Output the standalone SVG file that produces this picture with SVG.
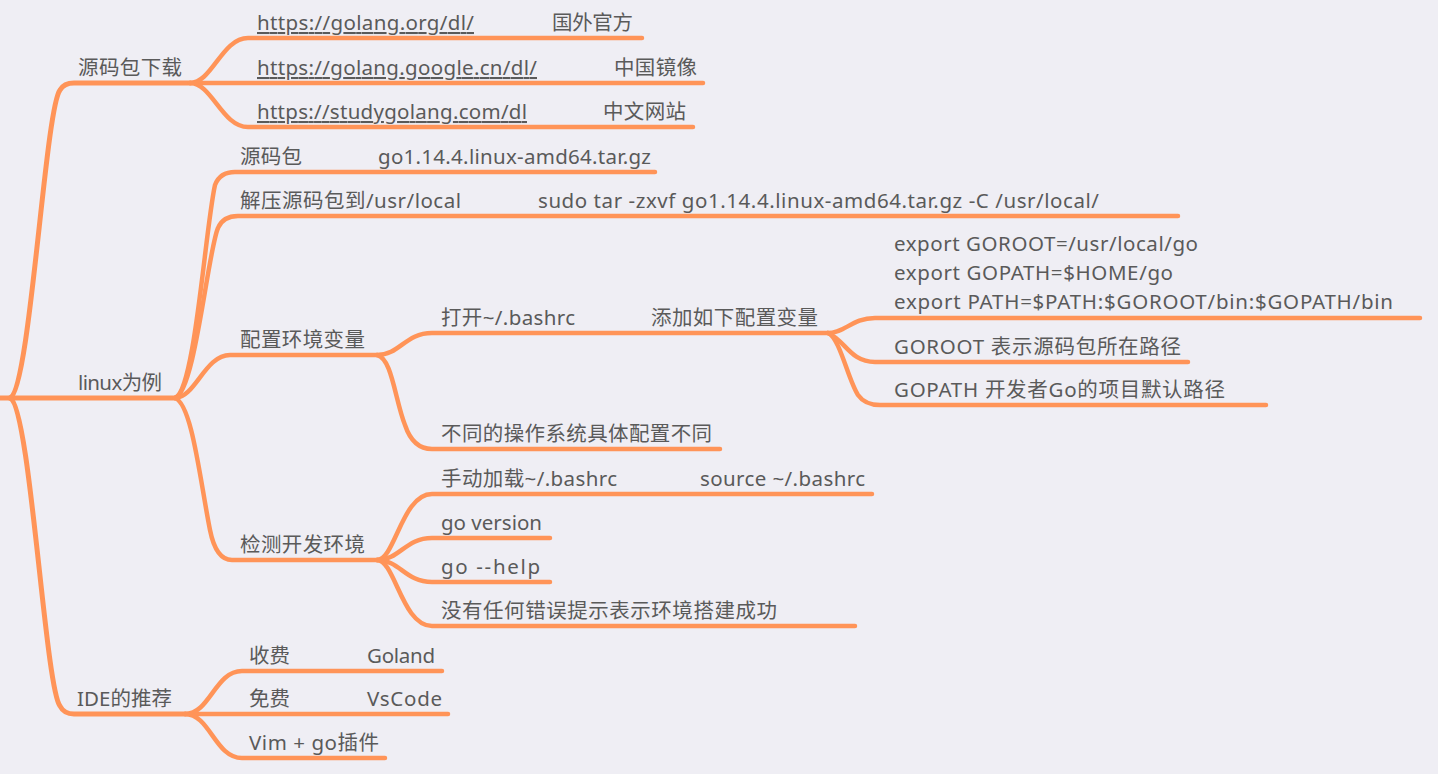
<svg xmlns="http://www.w3.org/2000/svg" width="1438" height="774" viewBox="0 0 1438 774">
<style>
.bg{fill:#EFEEF4}
.c{fill:none;stroke:#FF9458;stroke-width:4.5;stroke-linecap:round;stroke-linejoin:round}
.c1{stroke-width:5}
text{font-family:"Noto Sans","Noto Sans CJK SC",sans-serif;font-size:20.5px;fill:#5A5A5A}
.u{text-decoration:underline}
</style>
<rect class="bg" x="0" y="0" width="1438" height="774"/>
<g id="connectors">
<path class="c c1" d="M0,398 H175"/>
<path class="c c1" d="M10,398 C30,390 45,110 60,90 Q64,83 74,83 H190"/>
<path class="c c1" d="M10,398 C30,406 45,686 60,706 Q64,714 74,714 H185"/>
<path class="c" d="M190,83 C212,83 222,38 248,38 H642"/>
<path class="c" d="M190,83 H703"/>
<path class="c" d="M190,83 C212,83 222,127 248,127 H693"/>
<path class="c" d="M175,398 C195,390 205,230 215,185 Q220,172 235,172 H655"/>
<path class="c" d="M175,398 C195,392 208,250 218,228 Q223,216 238,216 H1178"/>
<path class="c" d="M175,398 C195,398 205,355 230,355 H377"/>
<path class="c" d="M175,398 C192,404 200,480 210,530 Q216,560 232,560 H377"/>
<path class="c" d="M185,714 C210,714 215,671 242,671 H442"/>
<path class="c" d="M185,714 H448"/>
<path class="c" d="M185,714 C210,714 215,758 242,758 H385"/>
<path class="c" d="M377,355 C400,355 405,333 432,333 H828"/>
<path class="c" d="M377,355 C392,358 395,400 405,425 Q413,449 432,449 H720"/>
<path class="c" d="M828,333 C845,333 852,318 875,318 H1420"/>
<path class="c" d="M828,333 C845,340 850,362 875,362 H1188"/>
<path class="c" d="M828,333 C840,338 848,380 858,395 Q865,405 880,405 H1266"/>
<path class="c" d="M377,560 C395,560 402,494 432,494 H872"/>
<path class="c" d="M377,560 C400,560 405,538 432,538 H550"/>
<path class="c" d="M377,560 C400,560 405,582 432,582 H550"/>
<path class="c" d="M377,560 C395,560 402,626 432,626 H855"/>
</g>
<g id="n-download"><text x="78" y="75" textLength="104">源码包下载</text></g>
<g id="n-linux"><text x="78" y="390" textLength="84">linux为例</text></g>
<g id="n-ide"><text x="77" y="706" textLength="95">IDE的推荐</text></g>
<g id="n-url1"><text class="u" x="257" y="30" textLength="217">https://golang.org/dl/</text><text x="552" y="30" textLength="81">国外官方</text></g>
<g id="n-url2"><text class="u" x="257" y="75" textLength="280">https://golang.google.cn/dl/</text><text x="614" y="75" textLength="83">中国镜像</text></g>
<g id="n-url3"><text class="u" x="257" y="119" textLength="270">https://studygolang.com/dl</text><text x="603" y="119" textLength="83">中文网站</text></g>
<g id="n-src"><text x="240" y="164" textLength="62">源码包</text><text x="378" y="164" textLength="273">go1.14.4.linux-amd64.tar.gz</text></g>
<g id="n-untar"><text x="240" y="208" textLength="221">解压源码包到/usr/local</text><text x="538" y="208" textLength="561">sudo tar -zxvf go1.14.4.linux-amd64.tar.gz -C /usr/local/</text></g>
<g id="n-env"><text x="240" y="347" textLength="125">配置环境变量</text></g>
<g id="n-check"><text x="240" y="552" textLength="125">检测开发环境</text></g>
<g id="n-bashrc"><text x="441" y="325" textLength="134">打开~/.bashrc</text><text x="651" y="325" textLength="167">添加如下配置变量</text></g>
<g id="n-os"><text x="441" y="441" textLength="271">不同的操作系统具体配置不同</text></g>
<g id="n-export"><text x="894" y="251" textLength="304">export GOROOT=/usr/local/go</text><text x="894" y="280" textLength="279">export GOPATH=$HOME/go</text><text x="894" y="309" textLength="499">export PATH=$PATH:$GOROOT/bin:$GOPATH/bin</text></g>
<g id="n-goroot"><text x="894" y="354" textLength="287">GOROOT 表示源码包所在路径</text></g>
<g id="n-gopath"><text x="894" y="397" textLength="331">GOPATH 开发者Go的项目默认路径</text></g>
<g id="n-load"><text x="441" y="486" textLength="176">手动加载~/.bashrc</text><text x="700" y="486" textLength="165">source ~/.bashrc</text></g>
<g id="n-version"><text x="441" y="530" textLength="101">go version</text></g>
<g id="n-help"><text x="441" y="574" textLength="99">go --help</text></g>
<g id="n-ok"><text x="441" y="618" textLength="336">没有任何错误提示表示环境搭建成功</text></g>
<g id="n-paid"><text x="249" y="663" textLength="41">收费</text><text x="367" y="663" textLength="68">Goland</text></g>
<g id="n-free"><text x="249" y="706" textLength="41">免费</text><text x="367" y="706" textLength="75">VsCode</text></g>
<g id="n-vim"><text x="249" y="750" textLength="130">Vim + go插件</text></g>
</svg>
